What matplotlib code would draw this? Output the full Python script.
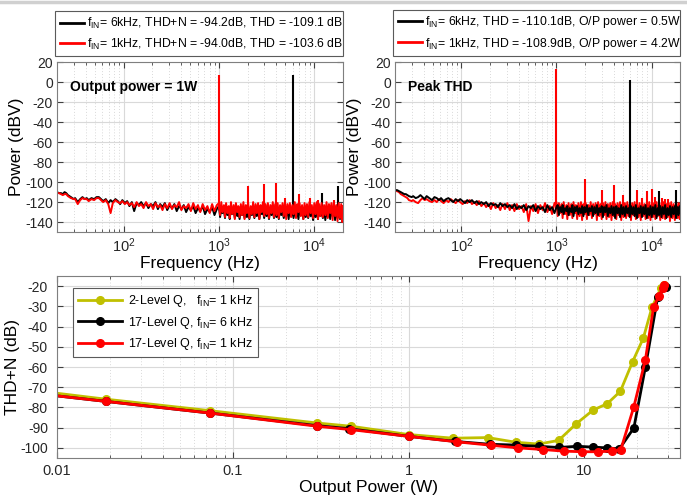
import numpy as np
import matplotlib
matplotlib.use("Agg")
import matplotlib.pyplot as plt
from matplotlib.lines import Line2D
from matplotlib.ticker import FuncFormatter, LogLocator, NullFormatter

plt.rcParams['font.family'] = ['Liberation Sans', 'DejaVu Sans']
plt.rcParams['mathtext.fontset'] = 'custom'
plt.rcParams['mathtext.rm'] = 'Liberation Sans'
plt.rcParams['mathtext.it'] = 'Liberation Sans:italic'
plt.rcParams['mathtext.bf'] = 'Liberation Sans:bold'
plt.rcParams['axes.unicode_minus'] = False

# [Spectrum data]______________________________________________________________

freq = [20, 21, 22, 23, 24, 25, 26, 27, 28, 30,
        31, 33, 35, 37, 39, 41, 43, 46, 49, 52,
        55, 58, 61, 65, 69, 73, 77, 82, 87, 92,
        97, 103, 109, 115, 122, 129, 137, 145, 153, 162,
        172, 182, 193, 204, 216, 229, 242, 256, 271, 287,
        304, 322, 341, 361, 382, 404, 428, 453, 480, 508,
        538, 570, 603, 638, 676, 716, 758, 802, 849, 899,
        952, 1000, 1030, 1060, 1090, 1130, 1160, 1190, 1230, 1270,
        1300, 1340, 1380, 1430, 1470, 1510, 1560, 1600, 1650, 1700,
        1750, 1810, 1860, 1920, 1970, 2030, 2090, 2160, 2220, 2290,
        2360, 2430, 2500, 2580, 2660, 2740, 2820, 2900, 2990, 3080,
        3170, 3270, 3360, 3470, 3570, 3680, 3790, 3900, 4020, 4140,
        4260, 4390, 4520, 4660, 4800, 4940, 5090, 5240, 5400, 5560,
        5730, 5900, 6080, 6260, 6450, 6640, 6840, 7040, 7250, 7470,
        7700, 7930, 8160, 8410, 8660, 8920, 9190, 9460, 9750, 10040,
        10340, 10650, 10970, 11300, 11640, 11990, 12350, 12720, 13100, 13490,
        13900, 14310, 14740, 15190, 15640, 16110, 16590, 17090, 17600, 18130,
        18680, 19240, 19800, 20000]

# output power = 1W
left_black = [-110, -111, -111, -112, -110, -111, -113, -114, -115, -117,
              -116, -120, -117, -115, -117, -116, -118, -116, -117, -115,
              -115, -117, -119, -117, -121, -118, -120, -117, -119, -122,
              -118, -121, -119, -124, -120, -129, -121, -123, -120, -124,
              -121, -126, -122, -124, -120, -127, -122, -125, -121, -128,
              -123, -126, -122, -129, -124, -127, -123, -130, -125, -128,
              -124, -131, -126, -129, -124, -132, -127, -130, -125, -133,
              -127, -124, -135, -126, -131, -128, -136, -125, -133, -129,
              -137, -126, -132, -128, -136, -125, -134, -129, -137, -127,
              -133, -128, -136, -126, -135, -130, -137, -127, -133, -129,
              -136, -126, -134, -129, -137, -127, -132, -128, -136, -125,
              -134, -129, -137, -126, -133, -128, -136, -127, -135, -130,
              -137, -126, -133, -129, -136, -127, -134, -128, -137, -126,
              -134, -129, -136, -127, -135, -128, -137, -126, -133, -129,
              -137, -127, -135, -128, -136, -126, -134, -129, -138, -127,
              -135, -128, -137, -126, -134, -129, -136, -127, -138, -128,
              -135, -127, -137, -129, -134, -126, -138, -128, -136, -127,
              -137, -128, -135, -130]
left_red = [-111, -111, -112, -113, -112, -112, -114, -115, -116, -117,
            -117, -122, -118, -116, -117, -117, -119, -117, -118, -116,
            -116, -118, -120, -118, -122, -131, -121, -118, -120, -121,
            -119, -122, -120, -123, -121, -125, -120, -124, -122, -126,
            -120, -124, -122, -127, -121, -125, -123, -128, -122, -126,
            -121, -127, -123, -125, -120, -128, -124, -126, -122, -129,
            -121, -127, -123, -130, -122, -128, -124, -131, -122, -129,
            -123, -121, -133, -120, -130, -123, -135, -121, -131, -124,
            -136, -120, -132, -123, -137, -121, -130, -124, -135, -122,
            -133, -120, -137, -123, -131, -121, -136, -124, -132, -120,
            -135, -122, -131, -121, -137, -123, -130, -120, -134, -122,
            -132, -121, -136, -123, -131, -120, -135, -122, -133, -121,
            -136, -123, -130, -121, -134, -120, -137, -122, -131, -121,
            -135, -123, -132, -120, -136, -122, -130, -121, -134, -123,
            -137, -121, -133, -122, -135, -120, -131, -123, -136, -121,
            -132, -120, -137, -122, -134, -121, -135, -123, -133, -120,
            -136, -122, -131, -121, -138, -120, -134, -123, -139, -121,
            -136, -122, -140, -124]

# peak THD
right_black = [-108, -108, -109, -110, -111, -112, -112, -113, -114, -115,
               -114, -116, -115, -113, -115, -117, -114, -116, -118, -115,
               -116, -118, -116, -119, -117, -116, -118, -120, -117, -119,
               -117, -119, -121, -118, -120, -118, -121, -119, -122, -120,
               -122, -120, -124, -121, -123, -122, -125, -121, -124, -122,
               -125, -123, -126, -122, -127, -124, -126, -123, -128, -124,
               -126, -123, -129, -124, -127, -125, -130, -123, -128, -125,
               -131, -125, -123, -133, -125, -130, -123, -132, -126, -129,
               -124, -133, -126, -130, -123, -134, -125, -129, -124, -132,
               -126, -131, -124, -134, -125, -130, -123, -133, -126, -129,
               -124, -134, -125, -131, -123, -133, -126, -130, -124, -135,
               -125, -130, -123, -134, -126, -131, -124, -133, -125, -136,
               -124, -131, -126, -135, -123, -132, -125, -134, -124, -131,
               -126, -135, -124, -132, -125, -134, -123, -136, -126, -131,
               -124, -135, -125, -132, -123, -136, -126, -133, -124, -135,
               -125, -132, -123, -136, -126, -133, -124, -135, -125, -132,
               -123, -136, -126, -133, -124, -135, -125, -132, -124, -136,
               -125, -133, -124, -131]
right_red = [-109, -109, -110, -112, -113, -114, -115, -116, -118, -119,
             -118, -120, -121, -118, -116, -118, -117, -119, -120, -118,
             -120, -117, -119, -121, -118, -120, -117, -119, -121, -118,
             -120, -122, -119, -121, -118, -122, -120, -123, -119, -124,
             -121, -125, -122, -127, -121, -126, -123, -128, -122, -127,
             -121, -128, -123, -129, -122, -127, -124, -130, -122, -139,
             -124, -129, -122, -131, -123, -128, -121, -130, -124, -132,
             -121, -120, -134, -121, -131, -122, -136, -120, -132, -123,
             -137, -121, -133, -122, -136, -120, -131, -123, -137, -121,
             -134, -120, -138, -122, -132, -121, -137, -123, -133, -120,
             -136, -122, -132, -121, -138, -120, -134, -122, -137, -121,
             -133, -120, -137, -122, -135, -121, -138, -120, -134, -122,
             -137, -121, -133, -120, -138, -122, -135, -121, -136, -120,
             -134, -122, -138, -121, -133, -120, -137, -122, -135, -121,
             -138, -120, -134, -122, -137, -121, -136, -120, -138, -122,
             -135, -121, -137, -120, -134, -122, -138, -121, -136, -120,
             -137, -122, -135, -121, -139, -120, -136, -122, -138, -121,
             -136, -121, -137, -122]

# tones and harmonics (Hz, dBV)
left_red_tone_f = [1000, 2000, 3000, 4000, 5000, 7000, 9000, 11000, 16000]
left_red_tone_db = [7, -104, -102, -101, -116, -112, -116, -118, -118]
left_black_tone_f = [6000, 12000, 18000]
left_black_tone_db = [7, -111, -104]
right_red_tone_f = [1000, 2000, 3000, 4000, 5000, 7000, 8000, 9000, 10000, 11000, 13000, 14000, 15000]
right_red_tone_db = [13, -97, -108, -103, -113, -108, -116, -109, -107, -115, -116, -117, -117]
right_black_tone_f = [6000, 12000, 18000]
right_black_tone_db = [2, -109, -108]

# [THD+N vs output power]______________________________________________________

p_2lvl = [0.005, 0.0189, 0.0745, 0.302, 0.472, 1.0, 1.79, 2.82, 4.06, 5.5, 7.12, 9.0, 11.2, 13.5, 16.0, 18.8, 21.6, 24.2, 27.3, 28.5]
thd_2lvl = [-69.8, -75.9, -81.6, -87.7, -89.3, -93.4, -95.2, -94.9, -97.2, -98.1, -96.3, -88.0, -81.3, -78.1, -72.0, -57.3, -45.8, -30.5, -20.7, -19.5]
p_17_6k = [0.005, 0.0189, 0.0745, 0.302, 0.46, 1.0, 1.84, 2.89, 4.06, 5.5, 7.12, 9.1, 11.2, 13.5, 15.8, 19.1, 22.2, 26.1, 29.1]
thd_17_6k = [-71.3, -77.0, -82.8, -89.0, -90.5, -94.3, -96.8, -98.2, -98.6, -99.2, -99.8, -99.2, -99.6, -100.0, -100.5, -90.1, -60.1, -25.3, -20.3]
p_17_1k = [0.005, 0.0189, 0.0745, 0.302, 0.472, 1.0, 1.88, 2.95, 4.2, 5.8, 7.6, 9.7, 11.9, 14.3, 16.1, 19.1, 22.2, 24.7, 26.5, 27.9, 28.5]
thd_17_1k = [-71.3, -77.0, -82.8, -89.3, -91.0, -94.3, -97.0, -98.7, -100.0, -100.8, -101.6, -101.9, -101.9, -101.6, -100.8, -79.6, -56.5, -30.5, -24.9, -20.8, -19.5]

# [Figure]_____________________________________________________________________

c_red = '#ff0000'
c_yel = '#c0c000'
grid_c = '#d9d9d9'
spine_c = '#7f7f7f'
tick_fs = 10

fig = plt.figure(figsize=(6.87, 4.98), dpi=100)
fig.add_artist(Line2D([0, 1], [0.996, 0.996], color='#d0d0d0', lw=2.5))


def style_axes(ax):
    for s in ax.spines.values():
        s.set_color(spine_c)
        s.set_linewidth(0.8)
    ax.tick_params(which='both', direction='in', top=True, right=True, colors='#404040',
                   labelcolor='#262626', labelsize=tick_fs)
    ax.tick_params(which='major', length=4, pad=3)
    ax.tick_params(which='minor', length=2.5)
    ax.grid(True, which='major', color=grid_c, lw=0.8, ls='-')
    ax.grid(True, which='minor', color=grid_c, lw=0.7, ls=(0, (1, 2)))
    ax.set_axisbelow(True)


def spectrum(ax, first, second, title, labels):
    for f_tone, db_tone, db_noise, col in (first, second):
        ax.plot(freq, db_noise, color=col, lw=1.4)
        ax.vlines(f_tone, -127, db_tone, color=col, lw=1.5)
    ax.set_xscale('log')
    ax.set_xlim(20, 20000)
    ax.set_ylim(-150, 20)
    ax.set_yticks(np.arange(-140, 21, 20))
    style_axes(ax)
    ax.yaxis.grid(False, which='minor')
    ax.tick_params(axis='x', which='major', labelsize=10.5)
    ax.set_xlabel('Frequency (Hz)', fontsize=12.5, labelpad=1)
    ax.set_ylabel('Power (dBV)', fontsize=12.5, labelpad=1)
    ax.text(0.045, 0.855, title, transform=ax.transAxes, fontsize=10, fontweight='bold',
            va='center')
    handles = [Line2D([], [], color='black', lw=2), Line2D([], [], color=c_red, lw=2)]
    leg = ax.legend(handles, labels, loc='lower left', bbox_to_anchor=(-0.007, 1.035, 1.007, 0.25),
                    mode='expand', borderaxespad=0, fontsize=8.8, handlelength=2.0,
                    handletextpad=0.2, labelspacing=0.45, borderpad=0.38, fancybox=False,
                    edgecolor='#5a5a5a', framealpha=1)
    leg.get_frame().set_linewidth(0.8)


ax1 = fig.add_axes([0.083, 0.534, 0.416, 0.341])
spectrum(ax1,
         (left_black_tone_f, left_black_tone_db, left_black, 'black'),
         (left_red_tone_f, left_red_tone_db, left_red, c_red),
         'Output power = 1W',
         ['f$_{\\mathrm{IN}}$= 6kHz, THD+N = -94.2dB, THD = -109.1 dB',
          'f$_{\\mathrm{IN}}$= 1kHz, THD+N = -94.0dB, THD = -103.6 dB'])

ax2 = fig.add_axes([0.575, 0.534, 0.415, 0.341])
spectrum(ax2,
         (right_red_tone_f, right_red_tone_db, right_red, c_red),
         (right_black_tone_f, right_black_tone_db, right_black, 'black'),
         'Peak THD',
         ['f$_{\\mathrm{IN}}$= 6kHz, THD = -110.1dB, O/P power = 0.5W',
          'f$_{\\mathrm{IN}}$= 1kHz, THD = -108.9dB, O/P power = 4.2W'])

ax3 = fig.add_axes([0.083, 0.0803, 0.907, 0.3655])
ax3.plot(p_2lvl, thd_2lvl, color=c_yel, lw=2, marker='o', ms=5.5,
         label='2-Level Q,   f$_{\\mathrm{IN}}$= 1 kHz')
ax3.plot(p_17_6k, thd_17_6k, color='black', lw=2, marker='o', ms=5.5,
         label='17-Level Q, f$_{\\mathrm{IN}}$= 6 kHz')
ax3.plot(p_17_1k, thd_17_1k, color=c_red, lw=2, marker='o', ms=5.5,
         label='17-Level Q, f$_{\\mathrm{IN}}$= 1 kHz')
ax3.set_xscale('log')
ax3.set_xlim(0.01, 35)
ax3.set_ylim(-105, -15)
ax3.set_yticks(np.arange(-100, -19, 10))
ax3.set_xticks([0.01, 0.1, 1, 10])
ax3.xaxis.set_major_formatter(FuncFormatter(lambda v, p: '%g' % v))
ax3.xaxis.set_minor_locator(LogLocator(base=10, subs=np.arange(2, 10)))
ax3.xaxis.set_minor_formatter(NullFormatter())
style_axes(ax3)
ax3.yaxis.grid(False, which='minor')
ax3.tick_params(axis='y', which='major', pad=6.5)
ax3.tick_params(axis='x', which='major', labelsize=10.5, pad=4)
ax3.set_xlabel('Output Power (W)', fontsize=12.5, labelpad=2)
ax3.set_ylabel('THD+N (dB)', fontsize=12.5, labelpad=0)
leg = ax3.legend(loc='upper left', bbox_to_anchor=(0.026, 0.934), borderaxespad=0,
                 fontsize=9.0, handlelength=3.5, handletextpad=0.5, labelspacing=0.45,
                 fancybox=False, edgecolor='#5a5a5a', framealpha=1)
leg.get_frame().set_linewidth(0.8)

plt.savefig('out.png', dpi=100)
